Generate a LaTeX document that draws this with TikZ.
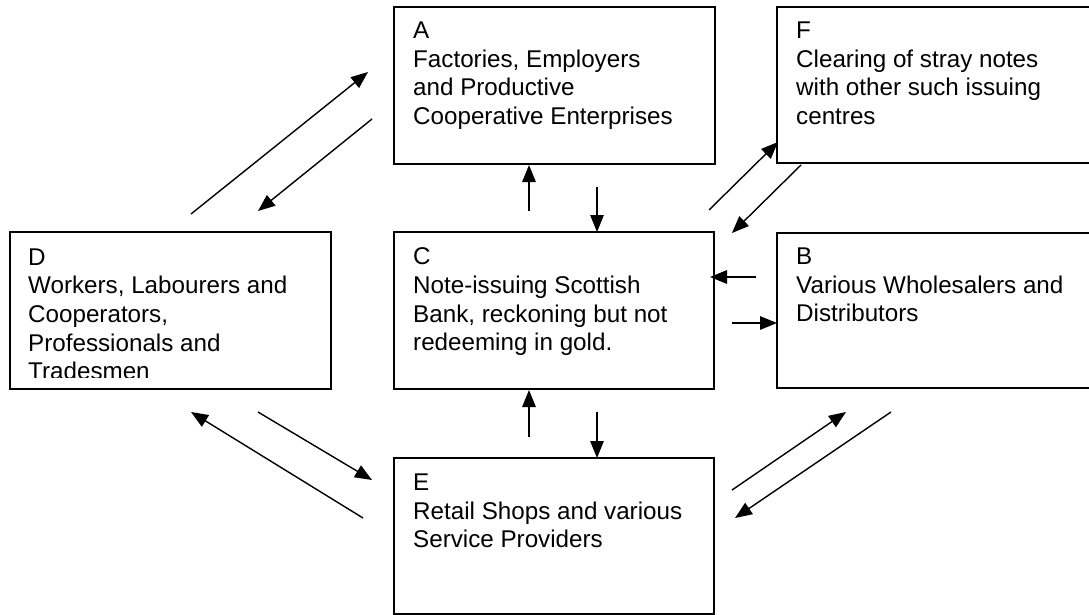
\documentclass[tikz,border=0pt]{standalone}
\usepackage{fontspec}
\setmainfont{Liberation Sans}
\usetikzlibrary{arrows.meta}
\begin{document}
\begin{tikzpicture}[x=1pt,y=-1pt,
  boxstyle/.style={draw=black,line width=1.5pt},
  txt/.style={anchor=north west,inner sep=0pt,align=left,
    font=\fontsize{24.2}{28.6}\selectfont},
  arr/.style={line width=1.4pt,-{Triangle[length=17pt,width=13.5pt]}}]
\useasboundingbox (0,0) rectangle (1089,615);
% boxes
\draw[boxstyle] (394,7) rectangle (715,164) coordinate (A);
\draw[boxstyle] (777,7) rectangle (1100,163) coordinate (F);
\draw[boxstyle] (10,232) rectangle (331,389) coordinate (D);
\draw[boxstyle] (394,232) rectangle (714,389) coordinate (C);
\draw[boxstyle] (777,233) rectangle (1100,388) coordinate (B);
\draw[boxstyle] (394,458) rectangle (714,614) coordinate (E);
% texts
\node[txt] (tA) at (413,21.8) {A\\Factories, Employers\\and Productive\\Cooperative Enterprises};
\node[txt] (tF) at (796,21.8) {F\\Clearing of stray notes\\with other such issuing\\centres};
\begin{scope}
\clip (11,233) rectangle (330,377.5);
\node[txt] (tD) at (28,248.5) {D\\Workers, Labourers and\\Cooperators,\\Professionals and\\Tradesmen};
\end{scope}
\node[txt] (tC) at (413,247.8) {C\\Note-issuing Scottish\\Bank, reckoning but not\\redeeming in gold.};
\node[txt] (tB) at (796,247.8) {B\\Various Wholesalers and\\Distributors};
\node[txt] (tE) at (413,473.8) {E\\Retail Shops and various\\Service Providers};
% arrow end points
\coordinate (da1) at (191,214); \coordinate (da2) at (368,72);
\coordinate (ad1) at (372,119); \coordinate (ad2) at (258,211);
\coordinate (ca1) at (529,211); \coordinate (ca2) at (529,165);
\coordinate (ac1) at (597,187); \coordinate (ac2) at (597,232);
\coordinate (ec1) at (529,437); \coordinate (ec2) at (529,390);
\coordinate (ce1) at (597,412); \coordinate (ce2) at (597,458);
\coordinate (cf1) at (709,210); \coordinate (cf2) at (778,142);
\coordinate (fc1) at (801,165); \coordinate (fc2) at (732,233);
\coordinate (bc1) at (756,277); \coordinate (bc2) at (710,277);
\coordinate (cb1) at (732,323); \coordinate (cb2) at (777,323);
\coordinate (ed1) at (363,518); \coordinate (ed2) at (191,412);
\coordinate (de1) at (258,412); \coordinate (de2) at (372,480);
\coordinate (eb1) at (732,490); \coordinate (eb2) at (846,412);
\coordinate (be1) at (891,412); \coordinate (be2) at (735,518);
% arrows
\foreach \s/\t in {da1/da2,ad1/ad2,ca1/ca2,ac1/ac2,ec1/ec2,ce1/ce2,cf1/cf2,fc1/fc2,bc1/bc2,cb1/cb2,ed1/ed2,de1/de2,eb1/eb2,be1/be2}
  \draw[arr] (\s) -- (\t);
\end{tikzpicture}
\end{document}
